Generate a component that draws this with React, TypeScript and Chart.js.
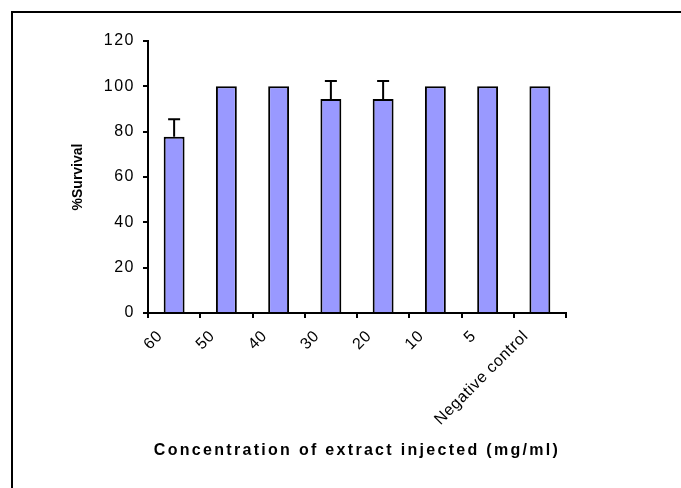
import React, { useEffect, useRef } from "react";
import { Chart, registerables, CategoryScale, LinearScale } from "chart.js";

Chart.register(...registerables);

const categories = ["60", "50", "40", "30", "20", "10", "5", "Negative control"];
const survival = [77.8, 100, 100, 94.4, 94.4, 100, 100, 100];
const survivalError = [7.7, 0, 0, 7.9, 7.9, 0, 0, 0];
const yTicks = [0, 20, 40, 60, 80, 100, 120];

const FONT = "'Liberation Sans', Arial, sans-serif";

// Category axis whose title and labels are set with wider letter spacing
class SpacedCategoryScale extends CategoryScale {
  static id = "spacedCategory";
  drawTitle() {
    const ctx = (this as any).ctx;
    ctx.save();
    ctx.letterSpacing = "2.3px";
    super.drawTitle();
    ctx.restore();
  }
  drawLabels(area: any) {
    const ctx = (this as any).ctx;
    ctx.save();
    ctx.letterSpacing = "0.6px";
    super.drawLabels(area);
    ctx.restore();
  }
}

// Value axis with slightly spaced tick numbers
class SpacedLinearScale extends LinearScale {
  static id = "spacedLinear";
  drawLabels(area: any) {
    const ctx = (this as any).ctx;
    ctx.save();
    ctx.letterSpacing = "1.5px";
    super.drawLabels(area);
    ctx.restore();
  }
}

Chart.register(SpacedCategoryScale, SpacedLinearScale);

// Upward-only error bars with a short cap, drawn from the data via the scales
const errorBarPlugin = {
  id: "errorBars",
  afterDatasetsDraw(chart: any) {
    const { ctx } = chart;
    const meta = chart.getDatasetMeta(0);
    const y = chart.scales.y;
    ctx.save();
    ctx.strokeStyle = "#000";
    ctx.lineWidth = 2;
    meta.data.forEach((bar: any, i: number) => {
      const err = survivalError[i];
      if (!err) return;
      const x = bar.x;
      const yTop = y.getPixelForValue(survival[i] + err);
      const yBase = y.getPixelForValue(survival[i]);
      ctx.beginPath();
      ctx.moveTo(x, yBase);
      ctx.lineTo(x, yTop);
      ctx.moveTo(x - 6, yTop);
      ctx.lineTo(x + 6, yTop);
      ctx.stroke();
    });
    ctx.restore();
  },
};

// Outer frame around the whole figure
const framePlugin = {
  id: "frame",
  afterDraw(chart: any) {
    const { ctx, width, height } = chart;
    ctx.save();
    ctx.strokeStyle = "#000";
    ctx.lineWidth = 2;
    ctx.strokeRect(12, 12, width, height);
    ctx.restore();
  },
};

export default function App() {
  const canvasRef = useRef<HTMLCanvasElement | null>(null);

  useEffect(() => {
    document.body.style.margin = "0";
    const canvas = canvasRef.current;
    if (!canvas) return;
    const chart = new Chart(canvas, {
      type: "bar",
      data: {
        labels: categories,
        datasets: [
          {
            data: survival,
            backgroundColor: "#9999FF",
            borderColor: "#000",
            borderWidth: 2,
            categoryPercentage: 1,
            barPercentage: 0.4,
          },
        ],
      },
      options: {
        responsive: false,
        animation: false,
        layout: { padding: { left: 0, top: 41, right: 115, bottom: 0 } },
        plugins: {
          legend: { display: false },
          tooltip: { enabled: false },
        },
        scales: {
          x: {
            type: "spacedCategory",
            grid: {
              display: true,
              drawOnChartArea: false,
              drawTicks: true,
              tickLength: 5,
              color: "#000",
              lineWidth: 2,
              offset: true,
            },
            border: { display: true, color: "#000", width: 2 },
            ticks: {
              color: "#000",
              font: { family: FONT, size: 16 },
              minRotation: 45,
              maxRotation: 45,
              padding: 9,
              labelOffset: -14,
            },
            title: {
              display: true,
              text: "Concentration of extract injected (mg/ml)",
              color: "#000",
              font: { family: FONT, size: 16, weight: "bold" },
              padding: { top: 0, bottom: 28 },
            },
            afterFit(scale: any) {
              scale.height = 175;
            },
          },
          y: {
            type: "spacedLinear",
            min: 0,
            max: 120,
            afterBuildTicks(scale: any) {
              scale.ticks = yTicks.map((v) => ({ value: v }));
            },
            grid: {
              display: true,
              drawOnChartArea: false,
              drawTicks: true,
              tickLength: 5,
              color: "#000",
              lineWidth: 2,
            },
            border: { display: true, color: "#000", width: 2 },
            ticks: {
              color: "#000",
              font: { family: FONT, size: 16 },
              padding: 8,
            },
            title: {
              display: true,
              text: "%Survival",
              color: "#000",
              font: { family: FONT, size: 14, weight: "bold" },
              padding: { top: 70, bottom: 0 },
            },
            afterFit(scale: any) {
              scale.width = 148;
            },
          },
        },
      },
      plugins: [errorBarPlugin, framePlugin],
    });
    return () => chart.destroy();
  }, []);

  return (
    <div style={{ width: 681, height: 488, background: "#fff" }}>
      <canvas ref={canvasRef} width={681} height={488} />
    </div>
  );
}
